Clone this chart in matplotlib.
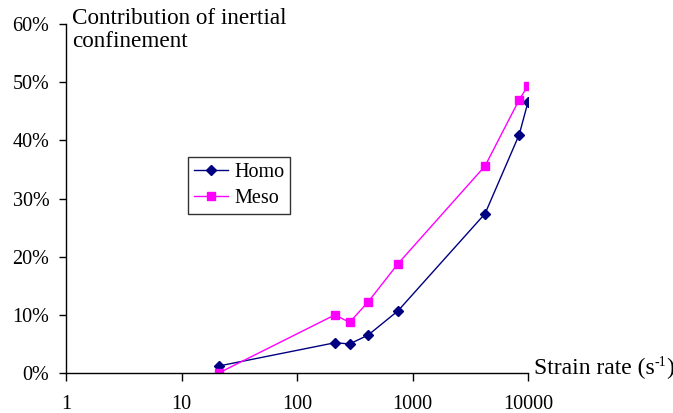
import numpy as np
import matplotlib.pyplot as plt
from matplotlib.ticker import FixedLocator, NullLocator

plt.rcParams['font.family'] = ['Liberation Serif', 'DejaVu Serif']

# データ
strain_rate = [21, 213, 285, 412, 750, 4250, 8400, 10000]
homo = [1.2, 5.2, 5.0, 6.5, 10.7, 27.4, 41.0, 46.6]
meso = [0.0, 10.0, 8.7, 12.2, 18.8, 35.6, 47.0, 49.4]
x_ticks = [1, 10, 100, 1000, 10000]
x_labels = ["1", "10", "100", "1000", "10000"]
y_ticks = [0, 10, 20, 30, 40, 50, 60]

W, H = 673, 413
fig = plt.figure(figsize=(W / 100, H / 100), dpi=100)
ax = fig.add_axes([66 / W, 40 / H, (528 - 66) / W, (373 - 24) / H])

ax.plot(strain_rate, homo, color="#000080", lw=1, marker="D", ms=5, label="Homo")
ax.plot(strain_rate, meso, color="#FF00FF", lw=1, marker="s", ms=5.5, label="Meso")

ax.set_xscale("log")
ax.set_xlim(1, 10000)
ax.set_ylim(0, 60)
ax.xaxis.set_major_locator(FixedLocator(x_ticks))
ax.xaxis.set_minor_locator(NullLocator())
ax.set_xticklabels(x_labels)
ax.set_yticks(y_ticks)
ax.set_yticklabels([str(v) + "%" for v in y_ticks])

for s in ["top", "right"]:
    ax.spines[s].set_visible(False)
for s in ["left", "bottom"]:
    ax.spines[s].set_linewidth(1)
ax.tick_params(axis="y", direction="out", length=5, width=1, pad=7, labelsize=14.5)
ax.tick_params(axis="x", direction="out", length=6, width=1, pad=9.5, labelsize=14.5)

fig.text(72 / W, 1 - 8 / H, "Contribution of inertial\nconfinement",
         fontsize=16.7, va="top", ha="left", linespacing=1.12)

# x軸ラベル (s^-1 を手で組む)
base_y = 1 - 374 / H
t1 = fig.text(534 / W, base_y, "Strain rate (s", fontsize=17, va="baseline", ha="left")
fig.canvas.draw()
r = fig.canvas.get_renderer()
x1 = t1.get_window_extent(r).x1
t2 = fig.text(x1 / W, base_y + 8 / H, "-1", fontsize=10, va="baseline", ha="left")
x2 = t2.get_window_extent(r).x1
fig.text(x2 / W, base_y, ")", fontsize=17, va="baseline", ha="left")

leg = ax.legend(loc="upper left", bbox_to_anchor=(188 / W, 1 - 157 / H),
                bbox_transform=fig.transFigure, borderaxespad=0, fontsize=14.5,
                fancybox=False, frameon=True, handlelength=1.7, handletextpad=0.3,
                borderpad=0.3, labelspacing=0.35)
leg.get_frame().set_edgecolor("black")
leg.get_frame().set_linewidth(1)

fig.savefig("out.png", dpi=100)
